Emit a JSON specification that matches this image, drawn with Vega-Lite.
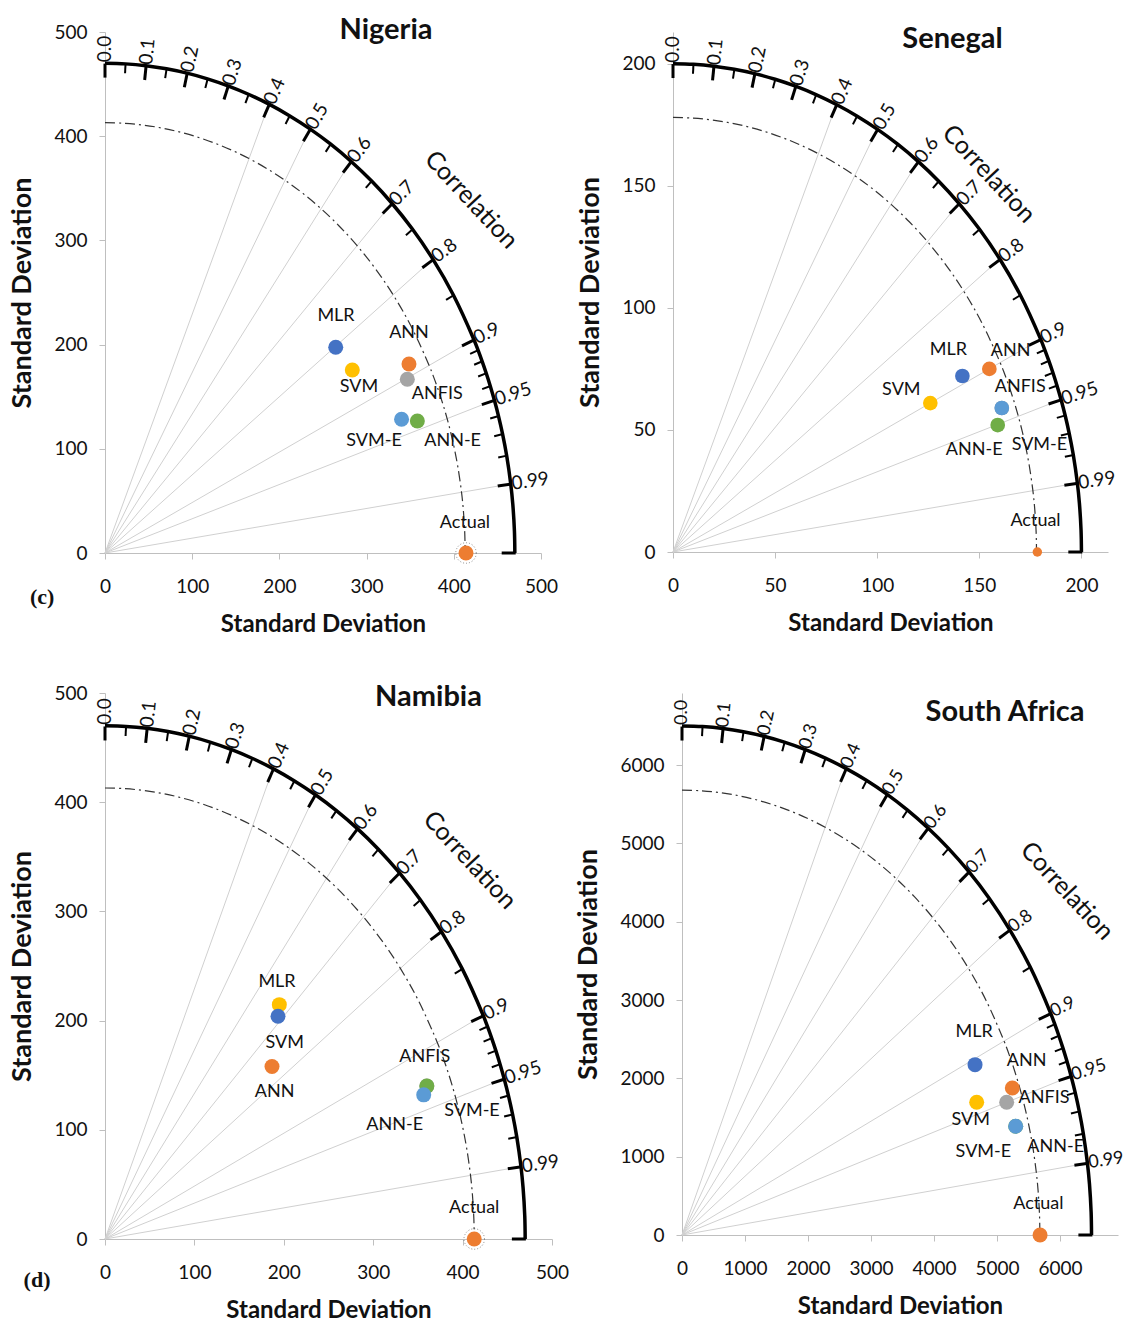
{
"$schema":"https://vega.github.io/schema/vega-lite/v6.json",
"padding":{"left":8,"top":16,"right":3,"bottom":5},
"background":"white",
"datasets":{
"arc":[{"c":0,"s":1},{"c":0.05,"s":0.99875},{"c":0.1,"s":0.99499},{"c":0.15,"s":0.98869},{"c":0.2,"s":0.9798},{"c":0.25,"s":0.96825},{"c":0.3,"s":0.95394},{"c":0.35,"s":0.93675},{"c":0.4,"s":0.91652},{"c":0.45,"s":0.89303},{"c":0.5,"s":0.86603},{"c":0.55,"s":0.83516},{"c":0.6,"s":0.8},{"c":0.65,"s":0.75993},{"c":0.7,"s":0.71414},{"c":0.75,"s":0.66144},{"c":0.8,"s":0.6},{"c":0.85,"s":0.52678},{"c":0.9,"s":0.43589},{"c":0.91,"s":0.41461},{"c":0.92,"s":0.39192},{"c":0.93,"s":0.36756},{"c":0.94,"s":0.34117},{"c":0.95,"s":0.31225},{"c":0.96,"s":0.28},{"c":0.97,"s":0.2431},{"c":0.98,"s":0.199},{"c":0.99,"s":0.14107},{"c":0.995,"s":0.09987},{"c":0.999,"s":0.04471},{"c":1,"s":0}],
"major":[{"c":0,"s":1,"o":0,"deg":90,"lab":"0.0"},{"c":0.1,"s":0.99499,"o":0,"deg":84.26,"lab":"0.1"},{"c":0.2,"s":0.9798,"o":0,"deg":78.46,"lab":"0.2"},{"c":0.3,"s":0.95394,"o":0,"deg":72.54,"lab":"0.3"},{"c":0.4,"s":0.91652,"o":0,"deg":66.42,"lab":"0.4"},{"c":0.5,"s":0.86603,"o":0,"deg":60,"lab":"0.5"},{"c":0.6,"s":0.8,"o":0,"deg":53.13,"lab":"0.6"},{"c":0.7,"s":0.71414,"o":0,"deg":45.57,"lab":"0.7"},{"c":0.8,"s":0.6,"o":0,"deg":36.87,"lab":"0.8"},{"c":0.9,"s":0.43589,"o":0,"deg":25.84,"lab":"0.9"},{"c":0.95,"s":0.31225,"o":0,"deg":18.19,"lab":"0.95"},{"c":0.99,"s":0.14107,"o":0,"deg":8.11,"lab":"0.99"},{"c":1,"s":0,"o":0,"deg":0,"lab":""}],
"minor":[{"c":0.05,"s":0.99875,"deg":87.13},{"c":0.15,"s":0.98869,"deg":81.37},{"c":0.25,"s":0.96825,"deg":75.52},{"c":0.35,"s":0.93675,"deg":69.51},{"c":0.45,"s":0.89303,"deg":63.26},{"c":0.55,"s":0.83516,"deg":56.63},{"c":0.65,"s":0.75993,"deg":49.46},{"c":0.75,"s":0.66144,"deg":41.41},{"c":0.85,"s":0.52678,"deg":31.79},{"c":0.91,"s":0.41461,"deg":24.49},{"c":0.92,"s":0.39192,"deg":23.07},{"c":0.93,"s":0.36756,"deg":21.57},{"c":0.94,"s":0.34117,"deg":19.95},{"c":0.96,"s":0.28,"deg":16.26},{"c":0.97,"s":0.2431,"deg":14.07},{"c":0.98,"s":0.199,"deg":11.48}],
"nga":[{"name":"MLR","x":264.6,"y":197.4,"lx":264.9,"ly":227.4},{"name":"SVM","x":283.6,"y":175.6,"lx":291.3,"ly":159.6},{"name":"ANFIS","x":346.7,"y":166.7,"lx":381.1,"ly":152.6},{"name":"ANN","x":348.6,"y":181.4,"lx":348.6,"ly":211.4},{"name":"SVM-E","x":340.1,"y":128.3,"lx":308.5,"ly":107.8},{"name":"ANN-E","x":358.2,"y":126.7,"lx":398.6,"ly":107.8},{"name":"Actual","x":414,"y":0,"lx":412.8,"ly":28.5}],
"sen":[{"name":"ANFIS","x":161,"y":59,"lx":170,"ly":67.6},{"name":"MLR","x":141.7,"y":72.1,"lx":134.8,"ly":82.8},{"name":"ANN","x":154.9,"y":75,"lx":165.3,"ly":82.3},{"name":"SVM","x":126,"y":61,"lx":111.8,"ly":66.4},{"name":"ANN-E","x":159,"y":52,"lx":147.5,"ly":41.8},{"name":"SVM-E","x":161,"y":59,"lx":179.4,"ly":43.9},{"name":"Actual","x":178.4,"y":0,"lx":177.5,"ly":12.7}],
"nam":[{"name":"ANFIS","x":360,"y":140,"lx":357.6,"ly":167},{"name":"SVM","x":195,"y":214.6,"lx":201,"ly":179.5},{"name":"MLR","x":193.5,"y":204,"lx":192.4,"ly":235},{"name":"ANN","x":186.8,"y":158,"lx":189.8,"ly":135},{"name":"ANN-E","x":360,"y":140,"lx":324,"ly":104.7},{"name":"SVM-E","x":356.5,"y":132,"lx":410.5,"ly":117},{"name":"Actual","x":413,"y":0,"lx":413,"ly":28.4}],
"rsa":[{"name":"ANN-E","x":5296,"y":1388,"lx":5931,"ly":1120},{"name":"MLR","x":4651,"y":2175,"lx":4635,"ly":2588},{"name":"SVM","x":4677,"y":1694,"lx":4582,"ly":1465},{"name":"ANFIS","x":5153,"y":1694,"lx":5746,"ly":1750},{"name":"ANN","x":5243,"y":1877,"lx":5471,"ly":2226},{"name":"SVM-E","x":5296,"y":1388,"lx":4783,"ly":1060},{"name":"Actual","x":5683,"y":0,"lx":5656,"ly":400}],
"ann_nga":[{"t":"Correlation","x":420,"y":339}],
"ann_sen":[{"t":"Correlation","x":154.7,"y":154.9}],
"ann_nam":[{"t":"Correlation","x":408,"y":347}],
"ann_rsa":[{"t":"Correlation","x":6111,"y":4393}],
"tag_nga":[{"t":"(c)","x":-72,"y":-42}],
"tag_nam":[{"t":"(d)","x":-76,"y":-37.5}]
},
"spacing":47,
"vconcat":[
{"hconcat":[
{
"width":436,"height":521,
"title":{"text":"Nigeria","dx":63,"offset":-22},
"resolve":{"scale":{"x":"independent","y":"independent"}},
"layer":[
{"data":{"name":"major"},"transform":[{"filter":"datum.c >= 0.4 && datum.c < 1"}],"mark":{"type":"rule","color":"#d0d0d0","strokeWidth":1},
 "encoding":{"x":{"field":"o","type":"quantitative","scale":{"domain":[0,1.06383],"nice":false},"axis":null},"y":{"field":"o","type":"quantitative","scale":{"domain":[0,1.06383],"nice":false},"axis":null},"x2":{"field":"c"},"y2":{"field":"s"}}},
{"data":{"name":"arc"},"mark":{"type":"line","interpolate":"catmull-rom","color":"#333333","strokeWidth":1.2,"strokeDash":[10,4,2,4]},
 "encoding":{"x":{"field":"c","type":"quantitative","scale":{"domain":[0,1.21065],"nice":false},"axis":null},"y":{"field":"s","type":"quantitative","scale":{"domain":[0,1.21065],"nice":false},"axis":null},"order":{"field":"c","type":"quantitative"}}},
{"data":{"name":"arc"},"mark":{"type":"line","interpolate":"catmull-rom","color":"#000000","strokeWidth":3.5},
 "encoding":{"x":{"field":"c","type":"quantitative","scale":{"domain":[0,1.06383],"nice":false},"axis":null},"y":{"field":"s","type":"quantitative","scale":{"domain":[0,1.06383],"nice":false},"axis":null},"order":{"field":"c","type":"quantitative"}}},
{"data":{"name":"major"},"mark":{"type":"point","shape":"stroke","filled":false,"color":"#000000","strokeWidth":3,"size":196,"opacity":1},
 "encoding":{"x":{"field":"c","type":"quantitative","scale":{"domain":[0,1.08003],"nice":false},"axis":null},"y":{"field":"s","type":"quantitative","scale":{"domain":[0,1.08003],"nice":false},"axis":null},"angle":{"field":"deg","type":"quantitative","scale":{"domain":[0,90],"range":[0,-90]}}}},
{"data":{"name":"minor"},"mark":{"type":"point","shape":"stroke","filled":false,"color":"#000000","strokeWidth":2,"size":81,"opacity":1},
 "encoding":{"x":{"field":"c","type":"quantitative","scale":{"domain":[0,1.07458],"nice":false},"axis":null},"y":{"field":"s","type":"quantitative","scale":{"domain":[0,1.07458],"nice":false},"axis":null},"angle":{"field":"deg","type":"quantitative","scale":{"domain":[0,90],"range":[0,-90]}}}},
{"data":{"name":"major"},"mark":{"type":"text","align":"left","baseline":"middle","dx":1,"fontSize":19},
 "encoding":{"x":{"field":"c","type":"quantitative","scale":{"domain":[0,1.06383],"nice":false},"axis":null},"y":{"field":"s","type":"quantitative","scale":{"domain":[0,1.06383],"nice":false},"axis":null},"text":{"field":"lab","type":"nominal"},"angle":{"field":"deg","type":"quantitative","scale":{"domain":[0,90],"range":[0,-90]}}}},
{"data":{"name":"ann_nga"},"mark":{"type":"text","angle":47,"fontSize":25,"align":"center","baseline":"middle"},
 "encoding":{"x":{"field":"x","type":"quantitative","scale":{"domain":[0,500],"nice":false},"axis":null},"y":{"field":"y","type":"quantitative","scale":{"domain":[0,500],"nice":false},"axis":null},"text":{"field":"t","type":"nominal"}}},
{"data":{"name":"nga"},"transform":[{"filter":"datum.name === 'Actual'"}],"mark":{"type":"point","filled":false,"size":420,"color":"#555555","strokeWidth":1,"strokeDash":[1,2]},
 "encoding":{"x":{"field":"x","type":"quantitative","scale":{"domain":[0,500],"nice":false},"axis":null},"y":{"field":"y","type":"quantitative","scale":{"domain":[0,500],"nice":false},"axis":null}}},
{"data":{"name":"nga"},"mark":{"type":"circle","size":225,"opacity":1},
 "encoding":{"x":{"field":"x","type":"quantitative","scale":{"domain":[0,500],"nice":false},"axis":{"values":[0,100,200,300,400,500],"title":"Standard Deviation"}},"y":{"field":"y","type":"quantitative","scale":{"domain":[0,500],"nice":false},"axis":{"values":[0,100,200,300,400,500],"title":"Standard Deviation"}},
 "color":{"field":"name","type":"nominal","scale":{"domain":["MLR","SVM","ANN","ANFIS","SVM-E","ANN-E","Actual"],"range":["#4472C4","#FFC000","#ED7D31","#A5A5A5","#5B9BD5","#70AD47","#ED7D31"]},"legend":null}}},
{"data":{"name":"nga"},"mark":{"type":"text","fontSize":18,"align":"center","baseline":"middle"},
 "encoding":{"x":{"field":"lx","type":"quantitative","scale":{"domain":[0,500],"nice":false},"axis":null},"y":{"field":"ly","type":"quantitative","scale":{"domain":[0,500],"nice":false},"axis":null},"text":{"field":"name","type":"nominal"}}},
{"data":{"name":"tag_nga"},"mark":{"type":"text","font":"Liberation Serif","fontWeight":"bold","fontSize":22,"align":"center","baseline":"middle"},
 "encoding":{"x":{"field":"x","type":"quantitative","scale":{"domain":[0,500],"nice":false},"axis":null},"y":{"field":"y","type":"quantitative","scale":{"domain":[0,500],"nice":false},"axis":null},"text":{"field":"t","type":"nominal"}}}
]
},
{
"width":435,"height":520,
"title":{"text":"Senegal","dx":62,"offset":-22},
"resolve":{"scale":{"x":"independent","y":"independent"}},
"layer":[
{"data":{"name":"major"},"transform":[{"filter":"datum.c >= 0.4 && datum.c < 1"}],"mark":{"type":"rule","color":"#d0d0d0","strokeWidth":1},
 "encoding":{"x":{"field":"o","type":"quantitative","scale":{"domain":[0,1.065],"nice":false},"axis":null},"y":{"field":"o","type":"quantitative","scale":{"domain":[0,1.065],"nice":false},"axis":null},"x2":{"field":"c"},"y2":{"field":"s"}}},
{"data":{"name":"arc"},"mark":{"type":"line","interpolate":"catmull-rom","color":"#333333","strokeWidth":1.2,"strokeDash":[10,4,2,4]},
 "encoding":{"x":{"field":"c","type":"quantitative","scale":{"domain":[0,1.19663],"nice":false},"axis":null},"y":{"field":"s","type":"quantitative","scale":{"domain":[0,1.19663],"nice":false},"axis":null},"order":{"field":"c","type":"quantitative"}}},
{"data":{"name":"arc"},"mark":{"type":"line","interpolate":"catmull-rom","color":"#000000","strokeWidth":3.5},
 "encoding":{"x":{"field":"c","type":"quantitative","scale":{"domain":[0,1.065],"nice":false},"axis":null},"y":{"field":"s","type":"quantitative","scale":{"domain":[0,1.065],"nice":false},"axis":null},"order":{"field":"c","type":"quantitative"}}},
{"data":{"name":"major"},"mark":{"type":"point","shape":"stroke","filled":false,"color":"#000000","strokeWidth":3,"size":196,"opacity":1},
 "encoding":{"x":{"field":"c","type":"quantitative","scale":{"domain":[0,1.08122],"nice":false},"axis":null},"y":{"field":"s","type":"quantitative","scale":{"domain":[0,1.08122],"nice":false},"axis":null},"angle":{"field":"deg","type":"quantitative","scale":{"domain":[0,90],"range":[0,-90]}}}},
{"data":{"name":"minor"},"mark":{"type":"point","shape":"stroke","filled":false,"color":"#000000","strokeWidth":2,"size":81,"opacity":1},
 "encoding":{"x":{"field":"c","type":"quantitative","scale":{"domain":[0,1.07576],"nice":false},"axis":null},"y":{"field":"s","type":"quantitative","scale":{"domain":[0,1.07576],"nice":false},"axis":null},"angle":{"field":"deg","type":"quantitative","scale":{"domain":[0,90],"range":[0,-90]}}}},
{"data":{"name":"major"},"mark":{"type":"text","align":"left","baseline":"middle","dx":1,"fontSize":19},
 "encoding":{"x":{"field":"c","type":"quantitative","scale":{"domain":[0,1.065],"nice":false},"axis":null},"y":{"field":"s","type":"quantitative","scale":{"domain":[0,1.065],"nice":false},"axis":null},"text":{"field":"lab","type":"nominal"},"angle":{"field":"deg","type":"quantitative","scale":{"domain":[0,90],"range":[0,-90]}}}},
{"data":{"name":"ann_sen"},"mark":{"type":"text","angle":47,"fontSize":25,"align":"center","baseline":"middle"},
 "encoding":{"x":{"field":"x","type":"quantitative","scale":{"domain":[0,213],"nice":false},"axis":null},"y":{"field":"y","type":"quantitative","scale":{"domain":[0,213],"nice":false},"axis":null},"text":{"field":"t","type":"nominal"}}},
{"data":{"name":"sen"},"mark":{"type":"circle","opacity":1},
 "encoding":{"x":{"field":"x","type":"quantitative","scale":{"domain":[0,213],"nice":false},"axis":{"values":[0,50,100,150,200],"title":"Standard Deviation"}},"y":{"field":"y","type":"quantitative","scale":{"domain":[0,213],"nice":false},"axis":{"values":[0,50,100,150,200],"title":"Standard Deviation"}},
 "size":{"condition":{"test":"datum.name === 'Actual'","value":90},"value":215},
 "color":{"field":"name","type":"nominal","scale":{"domain":["MLR","SVM","ANN","ANFIS","SVM-E","ANN-E","Actual"],"range":["#4472C4","#FFC000","#ED7D31","#A5A5A5","#5B9BD5","#70AD47","#ED7D31"]},"legend":null}}},
{"data":{"name":"sen"},"mark":{"type":"text","fontSize":18,"align":"center","baseline":"middle"},
 "encoding":{"x":{"field":"lx","type":"quantitative","scale":{"domain":[0,213],"nice":false},"axis":null},"y":{"field":"ly","type":"quantitative","scale":{"domain":[0,213],"nice":false},"axis":null},"text":{"field":"name","type":"nominal"}}}
]
}
],"spacing":18},
{"hconcat":[
{
"width":447,"height":546,
"title":{"text":"Namibia","dx":100,"offset":-28},
"resolve":{"scale":{"x":"independent","y":"independent"}},
"layer":[
{"data":{"name":"major"},"transform":[{"filter":"datum.c >= 0.4 && datum.c < 1"}],"mark":{"type":"rule","color":"#d0d0d0","strokeWidth":1},
 "encoding":{"x":{"field":"o","type":"quantitative","scale":{"domain":[0,1.06383],"nice":false},"axis":null},"y":{"field":"o","type":"quantitative","scale":{"domain":[0,1.06383],"nice":false},"axis":null},"x2":{"field":"c"},"y2":{"field":"s"}}},
{"data":{"name":"arc"},"mark":{"type":"line","interpolate":"catmull-rom","color":"#333333","strokeWidth":1.2,"strokeDash":[10,4,2,4]},
 "encoding":{"x":{"field":"c","type":"quantitative","scale":{"domain":[0,1.21065],"nice":false},"axis":null},"y":{"field":"s","type":"quantitative","scale":{"domain":[0,1.21065],"nice":false},"axis":null},"order":{"field":"c","type":"quantitative"}}},
{"data":{"name":"arc"},"mark":{"type":"line","interpolate":"catmull-rom","color":"#000000","strokeWidth":3.5},
 "encoding":{"x":{"field":"c","type":"quantitative","scale":{"domain":[0,1.06383],"nice":false},"axis":null},"y":{"field":"s","type":"quantitative","scale":{"domain":[0,1.06383],"nice":false},"axis":null},"order":{"field":"c","type":"quantitative"}}},
{"data":{"name":"major"},"mark":{"type":"point","shape":"stroke","filled":false,"color":"#000000","strokeWidth":3,"size":196,"opacity":1},
 "encoding":{"x":{"field":"c","type":"quantitative","scale":{"domain":[0,1.08003],"nice":false},"axis":null},"y":{"field":"s","type":"quantitative","scale":{"domain":[0,1.08003],"nice":false},"axis":null},"angle":{"field":"deg","type":"quantitative","scale":{"domain":[0,90],"range":[0,-90]}}}},
{"data":{"name":"minor"},"mark":{"type":"point","shape":"stroke","filled":false,"color":"#000000","strokeWidth":2,"size":81,"opacity":1},
 "encoding":{"x":{"field":"c","type":"quantitative","scale":{"domain":[0,1.07458],"nice":false},"axis":null},"y":{"field":"s","type":"quantitative","scale":{"domain":[0,1.07458],"nice":false},"axis":null},"angle":{"field":"deg","type":"quantitative","scale":{"domain":[0,90],"range":[0,-90]}}}},
{"data":{"name":"major"},"mark":{"type":"text","align":"left","baseline":"middle","dx":1,"fontSize":19},
 "encoding":{"x":{"field":"c","type":"quantitative","scale":{"domain":[0,1.06383],"nice":false},"axis":null},"y":{"field":"s","type":"quantitative","scale":{"domain":[0,1.06383],"nice":false},"axis":null},"text":{"field":"lab","type":"nominal"},"angle":{"field":"deg","type":"quantitative","scale":{"domain":[0,90],"range":[0,-90]}}}},
{"data":{"name":"ann_nam"},"mark":{"type":"text","angle":47,"fontSize":25,"align":"center","baseline":"middle"},
 "encoding":{"x":{"field":"x","type":"quantitative","scale":{"domain":[0,500],"nice":false},"axis":null},"y":{"field":"y","type":"quantitative","scale":{"domain":[0,500],"nice":false},"axis":null},"text":{"field":"t","type":"nominal"}}},
{"data":{"name":"nam"},"transform":[{"filter":"datum.name === 'Actual'"}],"mark":{"type":"point","filled":false,"size":420,"color":"#555555","strokeWidth":1,"strokeDash":[1,2]},
 "encoding":{"x":{"field":"x","type":"quantitative","scale":{"domain":[0,500],"nice":false},"axis":null},"y":{"field":"y","type":"quantitative","scale":{"domain":[0,500],"nice":false},"axis":null}}},
{"data":{"name":"nam"},"mark":{"type":"circle","size":225,"opacity":1},
 "encoding":{"x":{"field":"x","type":"quantitative","scale":{"domain":[0,500],"nice":false},"axis":{"values":[0,100,200,300,400,500],"title":"Standard Deviation"}},"y":{"field":"y","type":"quantitative","scale":{"domain":[0,500],"nice":false},"axis":{"values":[0,100,200,300,400,500],"title":"Standard Deviation"}},
 "color":{"field":"name","type":"nominal","scale":{"domain":["MLR","SVM","ANN","ANFIS","SVM-E","ANN-E","Actual"],"range":["#4472C4","#FFC000","#ED7D31","#A5A5A5","#5B9BD5","#70AD47","#ED7D31"]},"legend":null}}},
{"data":{"name":"nam"},"mark":{"type":"text","fontSize":18,"align":"center","baseline":"middle"},
 "encoding":{"x":{"field":"lx","type":"quantitative","scale":{"domain":[0,500],"nice":false},"axis":null},"y":{"field":"ly","type":"quantitative","scale":{"domain":[0,500],"nice":false},"axis":null},"text":{"field":"name","type":"nominal"}}},
{"data":{"name":"tag_nam"},"mark":{"type":"text","font":"Liberation Serif","fontWeight":"bold","fontSize":22,"align":"center","baseline":"middle"},
 "encoding":{"x":{"field":"x","type":"quantitative","scale":{"domain":[0,500],"nice":false},"axis":null},"y":{"field":"y","type":"quantitative","scale":{"domain":[0,500],"nice":false},"axis":null},"text":{"field":"t","type":"nominal"}}}
]
},
{
"width":436,"height":542,
"title":{"text":"South Africa","dx":105,"offset":-34},
"resolve":{"scale":{"x":"independent","y":"independent"}},
"layer":[
{"data":{"name":"major"},"transform":[{"filter":"datum.c >= 0.4 && datum.c < 1"}],"mark":{"type":"rule","color":"#d0d0d0","strokeWidth":1},
 "encoding":{"x":{"field":"o","type":"quantitative","scale":{"domain":[0,1.06462],"nice":false},"axis":null},"y":{"field":"o","type":"quantitative","scale":{"domain":[0,1.06462],"nice":false},"axis":null},"x2":{"field":"c"},"y2":{"field":"s"}}},
{"data":{"name":"arc"},"mark":{"type":"line","interpolate":"catmull-rom","color":"#333333","strokeWidth":1.2,"strokeDash":[10,4,2,4]},
 "encoding":{"x":{"field":"c","type":"quantitative","scale":{"domain":[0,1.21831],"nice":false},"axis":null},"y":{"field":"s","type":"quantitative","scale":{"domain":[0,1.21831],"nice":false},"axis":null},"order":{"field":"c","type":"quantitative"}}},
{"data":{"name":"arc"},"mark":{"type":"line","interpolate":"catmull-rom","color":"#000000","strokeWidth":3.5},
 "encoding":{"x":{"field":"c","type":"quantitative","scale":{"domain":[0,1.06462],"nice":false},"axis":null},"y":{"field":"s","type":"quantitative","scale":{"domain":[0,1.06462],"nice":false},"axis":null},"order":{"field":"c","type":"quantitative"}}},
{"data":{"name":"major"},"mark":{"type":"point","shape":"stroke","filled":false,"color":"#000000","strokeWidth":3,"size":196,"opacity":1},
 "encoding":{"x":{"field":"c","type":"quantitative","scale":{"domain":[0,1.08083],"nice":false},"axis":null},"y":{"field":"s","type":"quantitative","scale":{"domain":[0,1.08083],"nice":false},"axis":null},"angle":{"field":"deg","type":"quantitative","scale":{"domain":[0,90],"range":[0,-90]}}}},
{"data":{"name":"minor"},"mark":{"type":"point","shape":"stroke","filled":false,"color":"#000000","strokeWidth":2,"size":81,"opacity":1},
 "encoding":{"x":{"field":"c","type":"quantitative","scale":{"domain":[0,1.07537],"nice":false},"axis":null},"y":{"field":"s","type":"quantitative","scale":{"domain":[0,1.07537],"nice":false},"axis":null},"angle":{"field":"deg","type":"quantitative","scale":{"domain":[0,90],"range":[0,-90]}}}},
{"data":{"name":"major"},"mark":{"type":"text","align":"left","baseline":"middle","dx":1,"fontSize":18},
 "encoding":{"x":{"field":"c","type":"quantitative","scale":{"domain":[0,1.06462],"nice":false},"axis":null},"y":{"field":"s","type":"quantitative","scale":{"domain":[0,1.06462],"nice":false},"axis":null},"text":{"field":"lab","type":"nominal"},"angle":{"field":"deg","type":"quantitative","scale":{"domain":[0,90],"range":[0,-90]}}}},
{"data":{"name":"ann_rsa"},"mark":{"type":"text","angle":47,"fontSize":25,"align":"center","baseline":"middle"},
 "encoding":{"x":{"field":"x","type":"quantitative","scale":{"domain":[0,6920],"nice":false},"axis":null},"y":{"field":"y","type":"quantitative","scale":{"domain":[0,6920],"nice":false},"axis":null},"text":{"field":"t","type":"nominal"}}},
{"data":{"name":"rsa"},"mark":{"type":"circle","size":225,"opacity":1},
 "encoding":{"x":{"field":"x","type":"quantitative","scale":{"domain":[0,6920],"nice":false},"axis":{"values":[0,1000,2000,3000,4000,5000,6000],"format":"d","title":"Standard Deviation"}},"y":{"field":"y","type":"quantitative","scale":{"domain":[0,6920],"nice":false},"axis":{"values":[0,1000,2000,3000,4000,5000,6000],"format":"d","title":"Standard Deviation"}},
 "color":{"field":"name","type":"nominal","scale":{"domain":["MLR","SVM","ANN","ANFIS","SVM-E","ANN-E","Actual"],"range":["#4472C4","#FFC000","#ED7D31","#A5A5A5","#5B9BD5","#70AD47","#ED7D31"]},"legend":null}}},
{"data":{"name":"rsa"},"mark":{"type":"text","fontSize":18,"align":"center","baseline":"middle"},
 "encoding":{"x":{"field":"lx","type":"quantitative","scale":{"domain":[0,6920],"nice":false},"axis":null},"y":{"field":"ly","type":"quantitative","scale":{"domain":[0,6920],"nice":false},"axis":null},"text":{"field":"name","type":"nominal"}}}
]
}
],"spacing":5}
],
"config":{
"view":{"stroke":null},
"font":"Lato",
"axis":{"grid":false,"domainColor":"#bfbfbf","tickColor":"#bfbfbf","tickSize":6,"labelFont":"Lato","labelFontSize":19,"labelColor":"#111111","labelFlush":false,"labelOverlap":false,"titleFont":"Lato","titleFontSize":24,"titleFontWeight":"bold","titleColor":"#111111"},
"axisX":{"labelPadding":18,"titlePadding":16},
"axisY":{"labelPadding":12,"titlePadding":17,"titleFontSize":27},
"title":{"font":"Lato","fontSize":29,"fontWeight":"bold","color":"#111111","frame":"group","anchor":"middle","baseline":"alphabetic"},
"text":{"font":"Lato","color":"#111111"}
}
}
